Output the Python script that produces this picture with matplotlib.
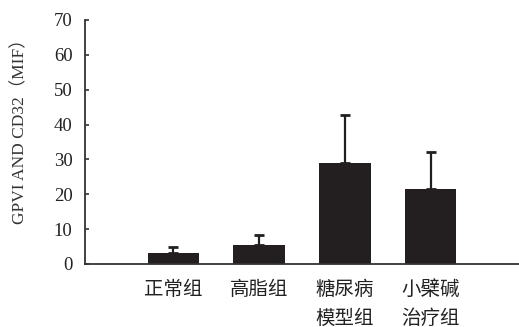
#!/usr/bin/env python3
"""
GPVI and CD32 expression by group, bar chart with upper error bars
"""

import matplotlib
matplotlib.use('Agg')
import matplotlib.pyplot as plt

groups = ['正常组', '高脂组', '糖尿病\n模型组', '小檗碱\n治疗组']
means = [3.2, 5.4, 29.0, 21.5]
errors = [1.8, 3.0, 13.8, 10.5]
yticks = [0, 10, 20, 30, 40, 50, 60, 70]

serif = ['Liberation Serif', 'Noto Sans CJK SC']
cjk = ['Noto Sans CJK SC', 'DejaVu Sans']


def main():
    fig = plt.figure(figsize=(5.19, 3.27), dpi=100)
    ax = fig.add_axes([85 / 519, 63 / 327, 434 / 519, 244 / 327])

    x = list(range(len(groups)))
    bar_color = '#231f20'
    ax.bar(x, means, width=0.6, color=bar_color, zorder=2)
    ax.errorbar(x, means, yerr=[[0] * len(errors), errors], fmt='none',
                ecolor=bar_color, elinewidth=1.6, capsize=3.5, capthick=2,
                zorder=3)

    ax.set_xlim(-1.03, 4.03)
    ax.set_ylim(0, 70)
    ax.set_yticks(yticks)
    ax.set_yticklabels([str(t) for t in yticks], family=serif, fontsize=13.5)
    ax.set_xticks(x)
    ax.set_xticklabels(groups, family=cjk, fontsize=14, linespacing=1.45,
                       color='#222222', va='top')
    ax.tick_params(axis='x', length=0, pad=11)
    ax.tick_params(axis='y', direction='in', length=3, width=1.2,
                   color='#333333', pad=9, labelcolor='#222222')

    for s in ['top', 'right']:
        ax.spines[s].set_visible(False)
    for s in ['left', 'bottom']:
        ax.spines[s].set_color('#333333')
        ax.spines[s].set_linewidth(1.3)

    ax.set_ylabel('GPVI AND CD32（MIF）', family=serif, fontsize=12.5,
                  color='#333333')
    ax.yaxis.set_label_coords(-0.13, 0.56)

    fig.savefig('out.png', dpi=100)


if __name__ == '__main__':
    main()
